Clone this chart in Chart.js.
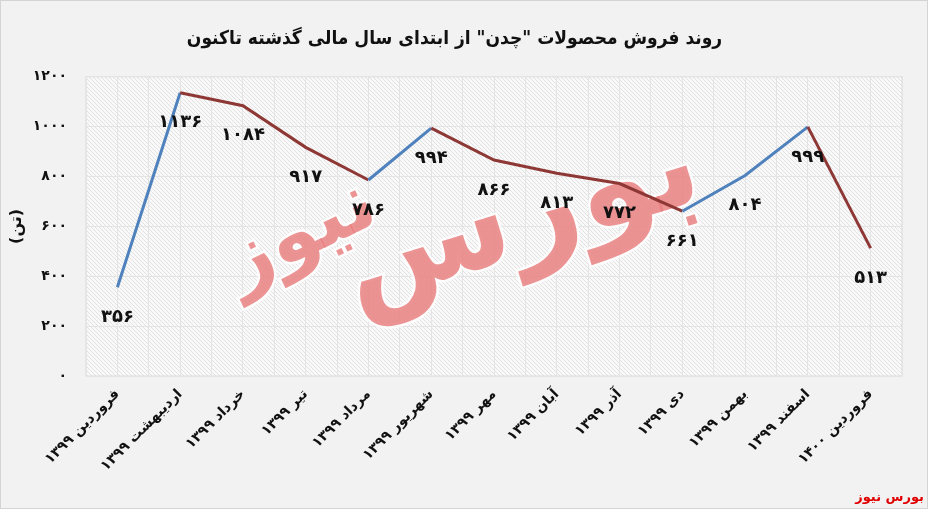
<!DOCTYPE html>
<html>
<head>
<meta charset="utf-8">
<script src="https://cdn.jsdelivr.net/npm/chart.js@4.4.0/dist/chart.umd.min.js"></script>
<style>
  html, body { margin: 0; padding: 0; background: #f2f2f2; }
  #wrap { position: relative; width: 926px; height: 507px; border: 1px solid #d4d4d4; background: #f2f2f2; }
  #credit { position: absolute; right: 3px; bottom: 4px; color: #e00000; font: bold 13px "DejaVu Sans", sans-serif; direction: rtl; }
</style>
</head>
<body>
<div id="wrap">
  <canvas id="chart" width="926" height="507"></canvas>
  <div id="credit">بورس نیوز</div>
</div>
<script>
const chartTitle = 'روند فروش محصولات "چدن" از ابتدای سال مالی گذشته تاکنون';
const months = [
  "فروردین ۱۳۹۹", "اردیبهشت ۱۳۹۹", "خرداد ۱۳۹۹", "تیر ۱۳۹۹", "مرداد ۱۳۹۹",
  "شهریور ۱۳۹۹", "مهر ۱۳۹۹", "آبان ۱۳۹۹", "آذر ۱۳۹۹", "دی ۱۳۹۹",
  "بهمن ۱۳۹۹", "اسفند ۱۳۹۹", "فروردین ۱۴۰۰"
];
const sales = [356, 1136, 1084, 917, 786, 994, 866, 813, 772, 661, 804, 999, 513];
const yTitle = "(تن)";

const upColor = "#4f81bd";
const downColor = "#8e3836";

function faDigits(v) {
  return String(v).replace(/[0-9]/g, d => "۰۱۲۳۴۵۶۷۸۹"[d]);
}

function hatch(ctx) {
  const c = document.createElement("canvas");
  c.width = 4; c.height = 4;
  const g = c.getContext("2d");
  g.fillStyle = "#f9f9f9";
  g.fillRect(0, 0, 4, 4);
  g.strokeStyle = "#e1e1e1";
  g.lineWidth = 1;
  g.beginPath();
  g.moveTo(0, 0); g.lineTo(4, 4);
  g.moveTo(-2, 2); g.lineTo(2, 6);
  g.moveTo(2, -2); g.lineTo(6, 2);
  g.stroke();
  return ctx.createPattern(c, "repeat");
}

const areaBg = {
  id: "areaBg",
  beforeDraw(chart) {
    const { ctx, chartArea: a } = chart;
    ctx.save();
    ctx.fillStyle = hatch(ctx);
    ctx.fillRect(a.left, a.top, a.right - a.left, a.bottom - a.top);
    ctx.strokeStyle = "#dadada";
    ctx.strokeRect(a.left, a.top, a.right - a.left, a.bottom - a.top);
    ctx.restore();
  }
};

function wmText(ctx, txt, size, x, y, rot) {
  ctx.save();
  ctx.textAlign = "center";
  ctx.textBaseline = "middle";
  ctx.direction = "rtl";
  ctx.font = "bold " + size + "px 'DejaVu Sans'";
  ctx.translate(x, y);
  ctx.rotate(rot);
  ctx.lineWidth = 5;
  ctx.strokeStyle = "rgba(255,255,255,0.8)";
  ctx.strokeText(txt, 0, 0);
  ctx.fillStyle = "rgba(233, 128, 128, 0.85)";
  ctx.fillText(txt, 0, 0);
  ctx.restore();
}

const watermark = {
  id: "watermark",
  beforeDatasetsDraw(chart) {
    const { ctx } = chart;
    wmText(ctx, "بورس", 125, 520, 220, -0.3);
    wmText(ctx, "نیوز", 80, 300, 235, -0.45);
  }
};

const valueLabels = {
  id: "valueLabels",
  afterDatasetsDraw(chart) {
    const { ctx } = chart;
    const meta = chart.getDatasetMeta(0);
    ctx.save();
    ctx.fillStyle = "#111";
    ctx.font = "bold 18px 'DejaVu Sans'";
    ctx.textAlign = "center";
    ctx.textBaseline = "middle";
    meta.data.forEach((pt, i) => {
      ctx.fillText(faDigits(sales[i]), pt.x, pt.y + 30);
    });
    ctx.restore();
  }
};

new Chart(document.getElementById("chart"), {
  type: "line",
  data: {
    labels: months,
    datasets: [{
      data: sales,
      borderWidth: 3,
      pointRadius: 0,
      tension: 0,
      borderColor: upColor,
      segment: {
        borderColor: c => c.p1.parsed.y >= c.p0.parsed.y ? upColor : downColor
      }
    }]
  },
  options: {
    responsive: false,
    animation: false,
    layout: { padding: { left: 6, right: 25, top: 4, bottom: 30 } },
    plugins: {
      legend: { display: false },
      tooltip: { enabled: false },
      title: {
        display: true,
        text: chartTitle,
        color: "#111",
        font: { family: "DejaVu Sans Condensed", size: 19, weight: "bold" },
        padding: { top: 23, bottom: 26 }
      }
    },
    scales: {
      x: {
        offset: true,
        grid: { color: "#e4e4e4", offset: false, drawTicks: false },
        border: { display: false },
        afterFit: s => { s.height = 102; },
        ticks: {
          color: "#111",
          maxRotation: 45,
          minRotation: 45,
          padding: 10,
          font: { family: "DejaVu Sans", size: 14, weight: "bold" }
        }
      },
      x2: {
        position: "bottom",
        offset: true,
        grid: { color: "#e4e4e4", offset: true, drawTicks: false },
        border: { display: false },
        afterFit: s => { s.height = 0; },
        ticks: { display: false }
      },
      y: {
        min: 0,
        max: 1200,
        grid: { color: "#e4e4e4", drawTicks: false },
        border: { display: false },
        afterFit: s => { s.width = 79; },
        title: {
          display: true,
          text: yTitle,
          color: "#111",
          padding: { top: 0, bottom: 14 },
          font: { family: "DejaVu Sans", size: 16, weight: "bold" }
        },
        ticks: {
          stepSize: 200,
          padding: 19,
          color: "#111",
          font: { family: "DejaVu Sans", size: 14, weight: "bold" },
          callback: v => faDigits(v)
        }
      }
    }
  },
  plugins: [areaBg, watermark, valueLabels]
});
</script>
</body>
</html>
